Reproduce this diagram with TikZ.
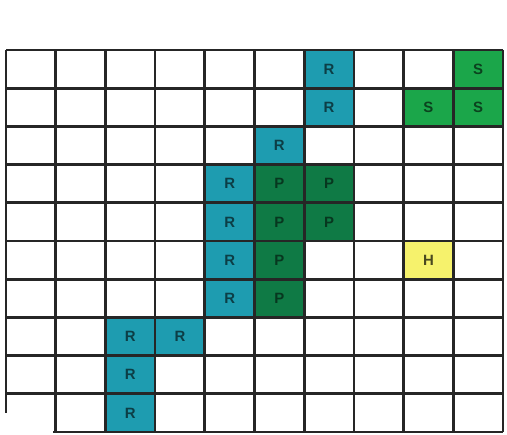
\documentclass[tikz,border=0pt]{standalone}
\usepackage{fontspec}
\setsansfont{Liberation Sans}
\definecolor{tealR}{HTML}{1E9CB0}
\definecolor{greenP}{HTML}{0F7A45}
\definecolor{greenS}{HTML}{1BA64A}
\definecolor{yellowH}{HTML}{F6F26C}
\def\cells{7/1/R, 10/1/S, 7/2/R, 9/2/S, 10/2/S, 6/3/R, 5/4/R, 6/4/P, 7/4/P,
  5/5/R, 6/5/P, 7/5/P, 5/6/R, 6/6/P, 9/6/H, 5/7/R, 6/7/P, 3/8/R, 4/8/R, 3/9/R, 3/10/R}
\begin{document}
\begin{tikzpicture}[x=0.02cm, y=-0.02cm,
    cellR/.style={fill=tealR}, cellP/.style={fill=greenP},
    cellS/.style={fill=greenS}, cellH/.style={fill=yellowH},
    txtR/.style={text=tealR!40!black}, txtP/.style={text=greenP!45!black},
    txtS/.style={text=greenS!40!black}, txtH/.style={text=yellowH!30!black},
    every node/.style={font=\sffamily\bfseries\fontsize{8.5}{10}\selectfont, inner sep=0pt}]
        \useasboundingbox (0,0) rectangle (507,435);
        
        % 1. 彩色格子
        \foreach \c/\r/\t in \cells
            \fill[cell\t] ({6+(\c-1)*49.7}, {50+(\r-1)*38.2}) rectangle ++(49.7, 38.2);
        
        % 2. 网格线
        \foreach \i in {0,...,10} {
            \draw[line width=1.5pt, black!85] ({6+\i*49.7}, 50) -- ({6+\i*49.7}, 432);
            \draw[line width=1.5pt, black!85] (6, {50+\i*38.2}) -- (503, {50+\i*38.2});
        }
        
        % 3. 字母
        \foreach \c/\r/\t [count=\k] in \cells
            \node[txt\t] (cell\k) at ({6+(\c-0.5)*49.7}, {50+(\r-0.5)*38.2}) {\t};
        
        % 左下角空白
        \fill[white] (0, 413) rectangle (53, 435);
\end{tikzpicture}
\end{document}
